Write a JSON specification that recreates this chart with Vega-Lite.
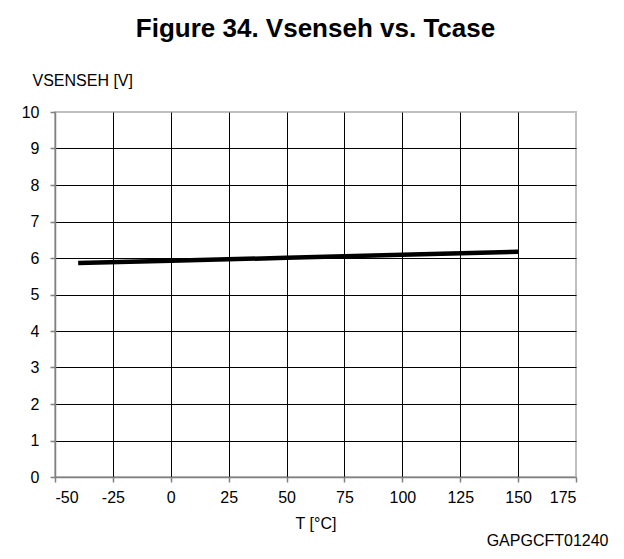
{
  "$schema": "https://vega.github.io/schema/vega-lite/v6.json",
  "width": 521,
  "height": 365,
  "autosize": {"type": "none"},
  "padding": {"left": 55, "top": 112, "right": 48, "bottom": 82},
  "background": "white",
  "title": {
    "text": "Figure 34. Vsenseh vs. Tcase",
    "font": "Liberation Sans",
    "fontSize": 26,
    "fontWeight": "bold",
    "color": "black",
    "anchor": "middle",
    "offset": 30
  },
  "data": {
    "values": [
      {"T": -40, "V": 5.86},
      {"T": 0, "V": 5.925},
      {"T": 50, "V": 6.005},
      {"T": 100, "V": 6.09},
      {"T": 150, "V": 6.17}
    ]
  },
  "layer": [
    {
      "mark": {"type": "line", "color": "black", "strokeWidth": 4.5, "strokeCap": "butt"},
      "encoding": {
        "x": {
          "field": "T",
          "type": "quantitative",
          "scale": {"domain": [-50, 175], "nice": false, "zero": false},
          "axis": {
            "title": "T [°C]",
            "values": [-50, -25, 0, 25, 50, 75, 100, 125, 150, 175],
            "labelExpr": "replace(datum.label, '\u2212', '-')",
            "labelPadding": 7,
            "titlePadding": 10,
            "gridColor": {"condition": {"test": "datum.value === 175 || datum.value === -50", "value": "transparent"}, "value": "black"}
          }
        },
        "y": {
          "field": "V",
          "type": "quantitative",
          "scale": {"domain": [0, 10], "nice": false, "zero": false},
          "axis": {
            "title": "VSENSEH [V]",
            "values": [0, 1, 2, 3, 4, 5, 6, 7, 8, 9, 10],
            "labelPadding": 11,
            "titleAngle": 0,
            "titleAlign": "left",
            "titleBaseline": "middle",
            "titleX": -23,
            "titleY": -32,
            "gridColor": {"condition": {"test": "datum.value === 10 || datum.value === 0", "value": "transparent"}, "value": "black"}
          }
        }
      }
    },
    {
      "mark": {"type": "line", "opacity": 0},
      "encoding": {
        "x": {"field": "T", "type": "quantitative"},
        "y": {
          "field": "V",
          "type": "quantitative",
          "axis": {
            "orient": "right",
            "title": "GAPGCFT01240",
            "labels": false,
            "ticks": false,
            "domain": false,
            "grid": false,
            "titleAngle": 0,
            "titleAlign": "right",
            "titleBaseline": "middle",
            "titleX": 32,
            "titleY": 428
          }
        }
      }
    }
  ],
  "resolve": {"axis": {"y": "independent"}},
  "config": {
    "view": {"stroke": "#c0c0c0", "strokeWidth": 2},
    "axis": {
      "labelFont": "Liberation Sans",
      "labelFontSize": 16,
      "labelColor": "black",
      "titleFont": "Liberation Sans",
      "titleFontSize": 16,
      "titleFontWeight": "normal",
      "titleColor": "black",
      "domainColor": "#808080",
      "domainWidth": 1.5,
      "tickColor": "#808080",
      "tickWidth": 1.5,
      "tickSize": 5,
      "gridWidth": 1,
      "gridOpacity": 1
    }
  }
}
